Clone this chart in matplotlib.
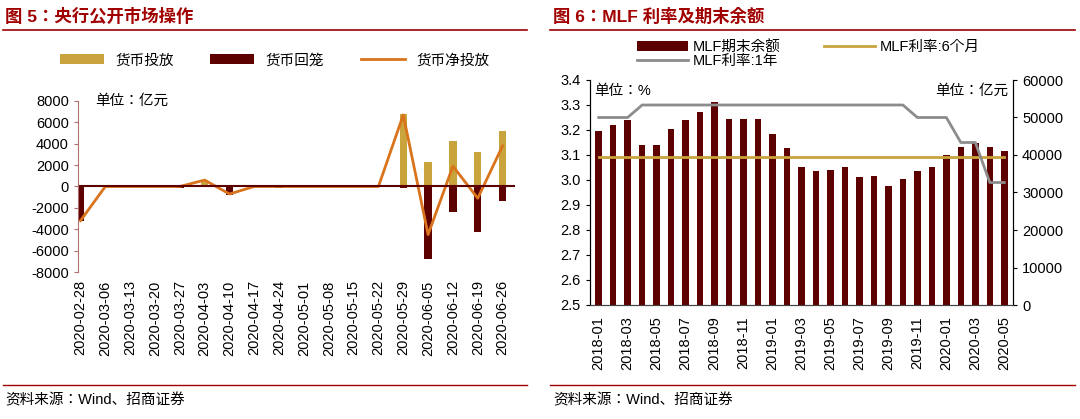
import matplotlib
matplotlib.use("Agg")
import matplotlib.pyplot as plt
from matplotlib.lines import Line2D

plt.rcParams['font.family'] = ['Liberation Sans', 'Noto Sans CJK JP']
plt.rcParams['axes.unicode_minus'] = False

dates = ["2020-02-28","2020-03-06","2020-03-13","2020-03-20","2020-03-27","2020-04-03",
         "2020-04-10","2020-04-17","2020-04-24","2020-05-01","2020-05-08","2020-05-15",
         "2020-05-22","2020-05-29","2020-06-05","2020-06-12","2020-06-19","2020-06-26"]
inject = [0,0,0,0,0,600,0,0,0,0,0,0,0,6800,2300,4300,3200,5200]
withdraw = [-3200,0,0,0,-100,0,-800,0,-100,0,0,0,0,-100,-6800,-2400,-4300,-1400]
net = [-3200,0,0,0,0,600,-700,0,0,0,0,0,0,6700,-4500,1900,-1100,3800]

months = ["2018-01","2018-02","2018-03","2018-04","2018-05","2018-06","2018-07","2018-08",
          "2018-09","2018-10","2018-11","2018-12","2019-01","2019-02","2019-03","2019-04",
          "2019-05","2019-06","2019-07","2019-08","2019-09","2019-10","2019-11","2019-12",
          "2020-01","2020-02","2020-03","2020-04","2020-05"]
balance = [46500,48000,49400,42700,42700,46900,49400,51400,54100,49500,49500,49500,
           45500,41800,36800,35600,36100,36800,34000,34300,31600,33700,35600,36800,
           39900,42100,43300,42100,41000]
rate6m = [3.09]*29
rate1y = [3.25,3.25,3.25]+[3.30]*19+[3.25,3.25,3.25]+[3.15,3.15]+[2.99,2.99]

DARK = "#5c0000"
GOLD = "#c9a43c"
ORANGE = "#d9731c"
GRAY = "#8c8c8c"
RED = "#a00000"
FS = 10.5

fig = plt.figure(figsize=(10.8, 4.19), dpi=100)
W, H = 1080, 419
def ax_rect(x0, y0, x1, y1):
    return [x0/W, 1-y1/H, (x1-x0)/W, (y1-y0)/H]

fig.text(5/W, 1-16/H, "图 5：央行公开市场操作", fontsize=12.5, fontweight='bold', color=RED, va='center')
fig.text(553/W, 1-16/H, "图 6：MLF 利率及期末余额", fontsize=12.5, fontweight='bold', color=RED, va='center')
for (a, b) in [(3, 527), (550, 1075)]:
    fig.add_artist(Line2D([a/W, b/W], [1-30/H, 1-30/H], color=RED, lw=1.2))
    fig.add_artist(Line2D([a/W, b/W], [1-385/H, 1-385/H], color=RED, lw=1.0))
fig.text(5/W, 1-400/H, "资料来源：Wind、招商证券", fontsize=FS, va='center')
fig.text(553/W, 1-400/H, "资料来源：Wind、招商证券", fontsize=FS, va='center')

# Left chart
ax = fig.add_axes(ax_rect(78, 101, 515, 272))
x = list(range(len(dates)))
b1 = ax.bar(x, inject, width=0.3, color=GOLD)
b2 = ax.bar(x, withdraw, width=0.3, color=DARK)
l1, = ax.plot(x, net, color=ORANGE, lw=2)
ax.axhline(0, color=DARK, lw=1.5)
ax.set_ylim(-8000, 8000)
ax.set_yticks(range(-8000, 8001, 2000))
ax.set_xlim(-0.1, 17.5)
ax.set_xticks(x)
ax.set_xticklabels(dates, rotation=90, fontsize=FS)
ax.tick_params(axis='y', labelsize=FS, length=3, color="#b07070")
ax.tick_params(axis='x', length=0, pad=6)
for s in ['top', 'right', 'bottom']:
    ax.spines[s].set_visible(False)
ax.spines['left'].set_color("#b07070")
ax.text(0.04, 1.0, "单位：亿元", transform=ax.transAxes, fontsize=FS, va='center')
ax.legend([b1, b2, l1], ["货币投放", "货币回笼", "货币净投放"], loc='lower center',
          bbox_to_anchor=(0.45, 1.12), ncol=3, frameon=False,
          fontsize=FS, handlelength=3, columnspacing=2.5)

# Right chart
ax2 = fig.add_axes(ax_rect(590, 80, 1013, 305))
axb = ax2.twinx()
ax2.set_zorder(axb.get_zorder()+1)
ax2.patch.set_visible(False)
xm = list(range(len(months)))
hb = axb.bar(xm, balance, width=0.45, color=DARK)
axb.set_ylim(0, 60000)
axb.set_yticks(range(0, 60001, 10000))
h6, = ax2.plot(xm, rate6m, color=GOLD, lw=2)
h1, = ax2.plot(xm, rate1y, color=GRAY, lw=2)
ticks = [2.5,2.6,2.7,2.8,2.9,3.0,3.1,3.2,3.3,3.4]
ax2.set_ylim(2.5, 3.4)
ax2.set_yticks(ticks)
ax2.set_yticklabels([f"{v:.1f}" for v in ticks])
ax2.set_xlim(-0.6, 28.6)
ax2.set_xticks(xm[::2])
ax2.set_xticklabels(months[::2], rotation=90, fontsize=FS)
ax2.tick_params(axis='x', length=0, pad=8)
ax2.tick_params(axis='y', labelsize=FS, length=3)
axb.tick_params(axis='y', labelsize=FS, length=3)
for a in (ax2, axb):
    a.spines['top'].set_visible(False)
    a.spines['bottom'].set_color('#444444')
ax2.text(0.01, 0.95, "单位：%", transform=ax2.transAxes, fontsize=FS, va='center')
ax2.text(0.99, 0.95, "单位：亿元", transform=ax2.transAxes, fontsize=FS, va='center', ha='right')
fig.legend([hb, h1, h6], ["MLF期末余额", "MLF利率:1年", "MLF利率:6个月"], loc='upper left',
           bbox_to_anchor=(630/W, 1-33/H), ncol=2, frameon=False, fontsize=FS,
           handlelength=3.5, columnspacing=3, labelspacing=0.0, borderpad=0, handletextpad=0.3)

fig.savefig("out.png", dpi=100)
